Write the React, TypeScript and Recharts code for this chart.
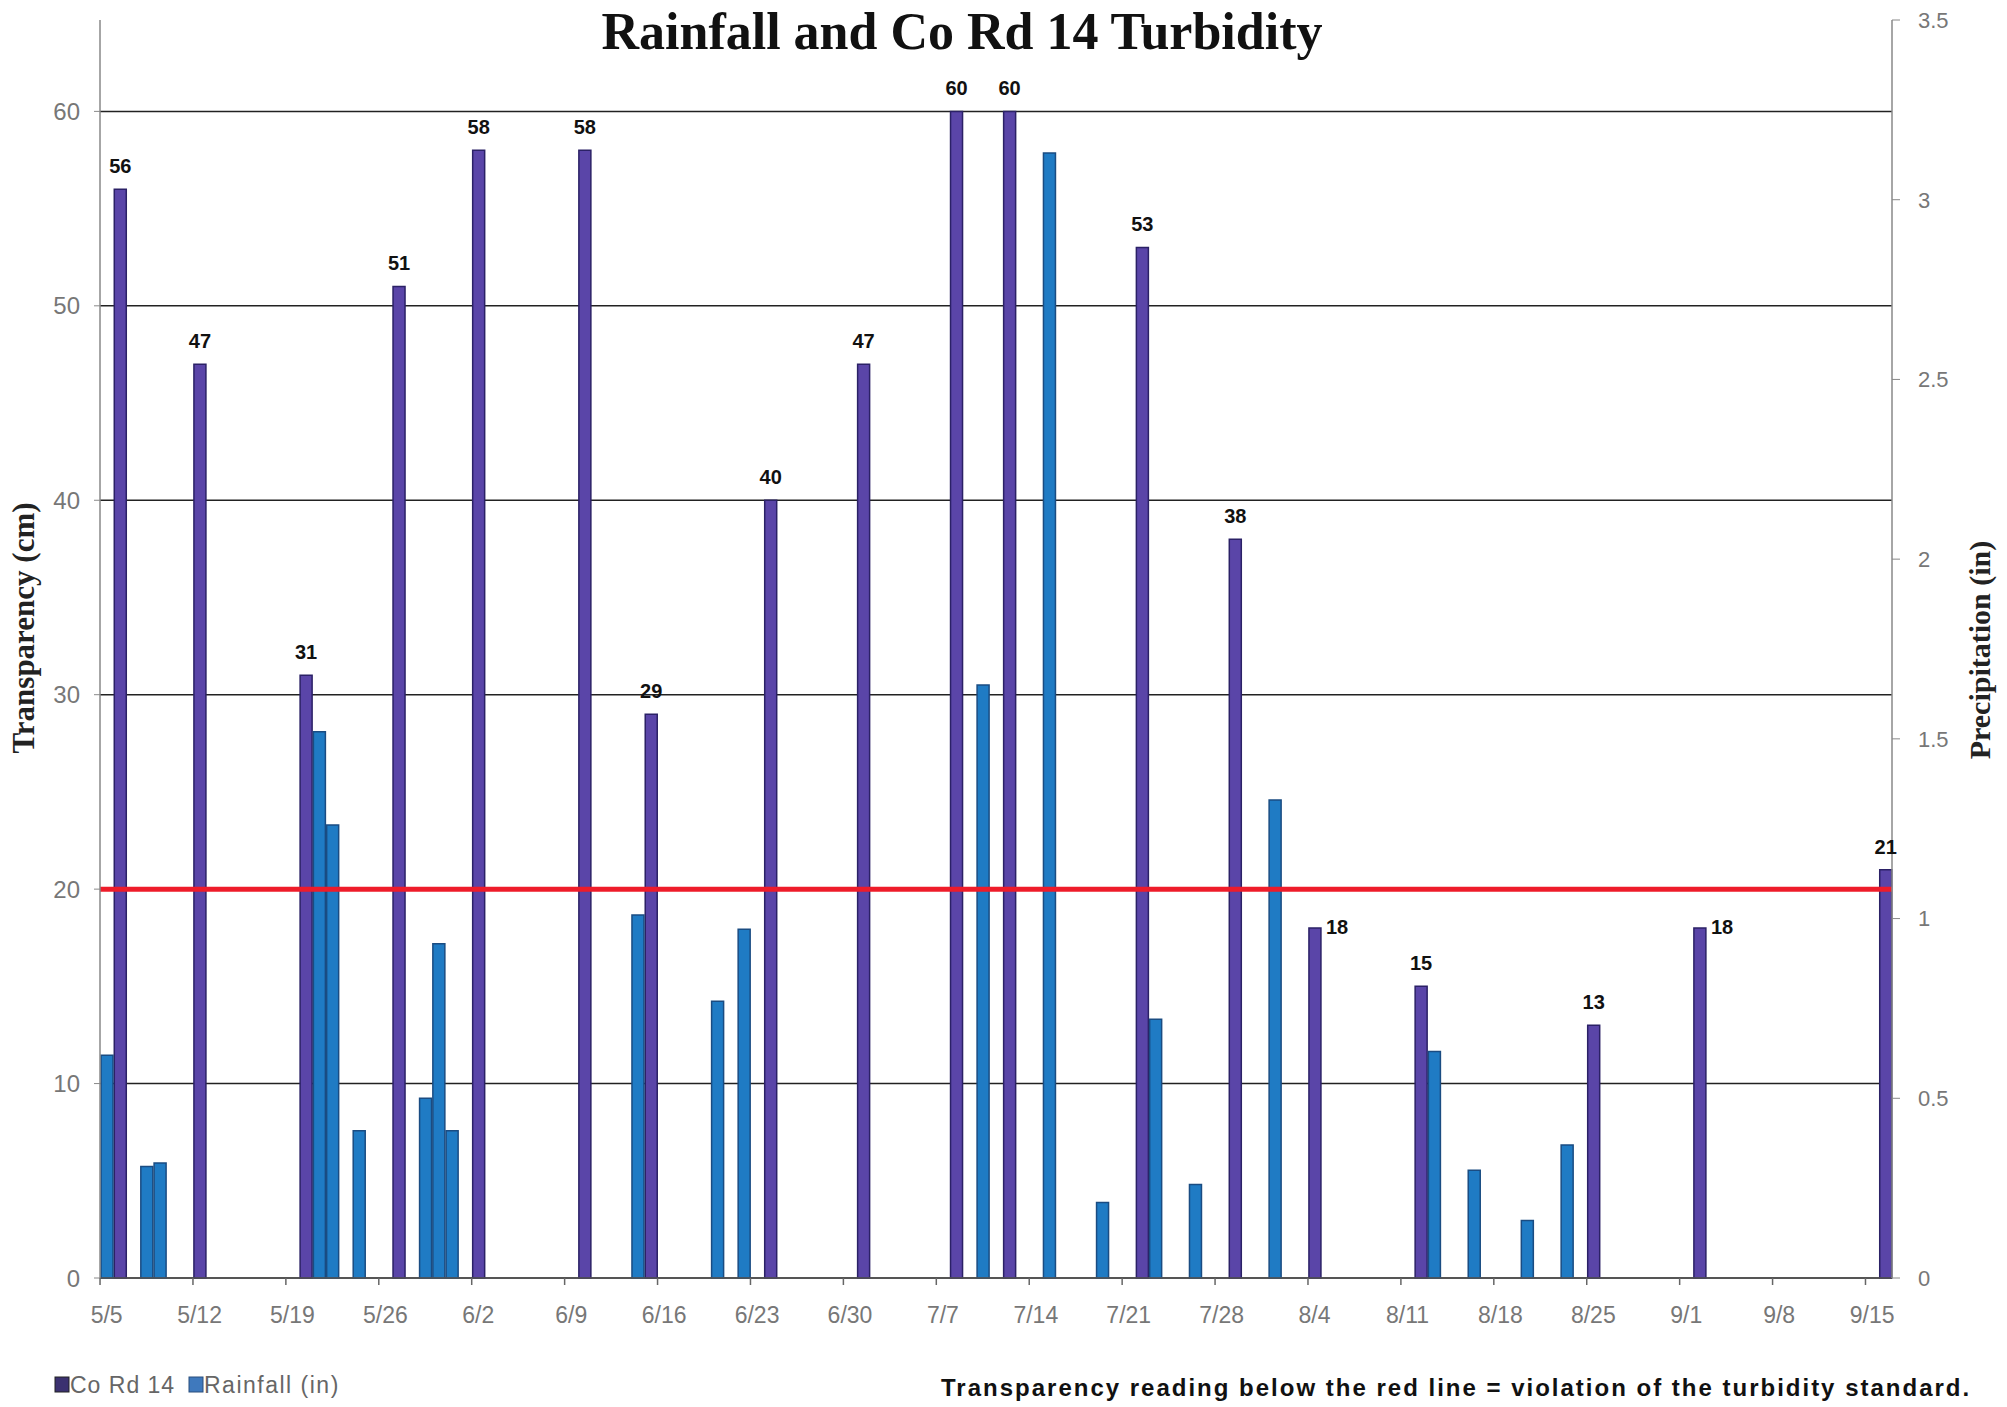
import React from 'react';
import { BarChart, Bar, XAxis, YAxis, CartesianGrid, ReferenceLine, LabelList } from 'recharts';

// every day of the season, one category each
const days: string[] = [
  '5/5', '5/6', '5/7', '5/8', '5/9', '5/10', '5/11', '5/12', '5/13', '5/14', '5/15', '5/16', '5/17', '5/18',
  '5/19', '5/20', '5/21', '5/22', '5/23', '5/24', '5/25', '5/26', '5/27', '5/28', '5/29', '5/30', '5/31',
  '6/1', '6/2', '6/3', '6/4', '6/5', '6/6', '6/7', '6/8', '6/9', '6/10', '6/11', '6/12', '6/13', '6/14', '6/15',
  '6/16', '6/17', '6/18', '6/19', '6/20', '6/21', '6/22', '6/23', '6/24', '6/25', '6/26', '6/27', '6/28', '6/29', '6/30',
  '7/1', '7/2', '7/3', '7/4', '7/5', '7/6', '7/7', '7/8', '7/9', '7/10', '7/11', '7/12', '7/13', '7/14', '7/15',
  '7/16', '7/17', '7/18', '7/19', '7/20', '7/21', '7/22', '7/23', '7/24', '7/25', '7/26', '7/27', '7/28', '7/29',
  '7/30', '7/31',
  '8/1', '8/2', '8/3', '8/4', '8/5', '8/6', '8/7', '8/8', '8/9', '8/10', '8/11', '8/12', '8/13', '8/14', '8/15',
  '8/16', '8/17', '8/18', '8/19', '8/20', '8/21', '8/22', '8/23', '8/24', '8/25', '8/26', '8/27', '8/28', '8/29',
  '8/30', '8/31',
  '9/1', '9/2', '9/3', '9/4', '9/5', '9/6', '9/7', '9/8', '9/9', '9/10', '9/11', '9/12', '9/13', '9/14', '9/15', '9/16',
];

// Co Rd 14 transparency readings (cm)
const readingDays = ['5/6', '5/12', '5/20', '5/27', '6/2', '6/10', '6/15', '6/24', '7/1', '7/8', '7/12', '7/22', '7/29', '8/4', '8/12', '8/25', '9/2', '9/16'];
const readingValues = [56, 47, 31, 51, 58, 58, 29, 40, 47, 60, 60, 53, 38, 18, 15, 13, 18, 21];

// rainfall (in)
const rainDays = ['5/5', '5/8', '5/9', '5/21', '5/22', '5/24', '5/29', '5/30', '5/31', '6/14', '6/20', '6/22', '7/10', '7/15', '7/19', '7/23', '7/26', '8/1', '8/13', '8/16', '8/20', '8/23'];
const rainValues = [0.62, 0.31, 0.32, 1.52, 1.26, 0.41, 0.5, 0.93, 0.41, 1.01, 0.77, 0.97, 1.65, 3.13, 0.21, 0.72, 0.26, 1.33, 0.63, 0.3, 0.16, 0.37];

const leftTicks = [0, 10, 20, 30, 40, 50, 60];
const rightTicks = [0, 0.5, 1, 1.5, 2, 2.5, 3, 3.5];
const standard = 20;

// readings whose label sits beside the bar instead of above it
const sideLabelDays = ['8/4', '9/2'];

const data = days.map((d) => {
  const ri = readingDays.indexOf(d);
  const pi = rainDays.indexOf(d);
  return {
    date: d,
    coRd14: ri >= 0 ? readingValues[ri] : null,
    rain: pi >= 0 ? rainValues[pi] : null,
  };
});

const narrow = '"Liberation Sans Narrow", "Liberation Sans", Arial, sans-serif';
const sans = '"Liberation Sans", Arial, sans-serif';
const serif = '"Liberation Serif", "DejaVu Serif", serif';
const HALF_BAND = 6.6;

const XTick = (props: any) => {
  const { x, y, payload } = props;
  return (
    <g>
      <line x1={x - HALF_BAND} x2={x - HALF_BAND} y1={y} y2={y + 7} stroke="#666" strokeWidth={1.5} />
      <text x={x} y={y + 45} textAnchor="middle" fill="#777" fontSize={23} fontFamily={narrow}>
        {payload.value}
      </text>
    </g>
  );
};

// label content gets the day as its value; the reading is looked up from it
const renderLabel = (props: any) => {
  const { x, y, width, value } = props;
  const ri = readingDays.indexOf(value);
  if (ri < 0) return null;
  const text = readingValues[ri];
  if (sideLabelDays.includes(value)) {
    return (
      <text x={x + width + 5} y={y + 6} fill="#111" fontSize={20} fontWeight="bold" fontFamily={narrow}>
        {text}
      </text>
    );
  }
  return (
    <text x={x + width / 2} y={y - 16} textAnchor="middle" fill="#111" fontSize={20} fontWeight="bold" fontFamily={narrow}>
      {text}
    </text>
  );
};

export default function App() {
  return (
    <div style={{ position: 'relative', width: 2007, height: 1407, background: '#fff' }}>
      <style>{'body{margin:0}'}</style>
      <BarChart
        width={2007}
        height={1407}
        data={data}
        margin={{ top: 20, right: 60, bottom: 79, left: 40 }}
        barSize={12}
        barGap={-12}
      >
        <CartesianGrid vertical={false} horizontalValues={leftTicks} stroke="#222" strokeWidth={1.5} />
        <XAxis
          dataKey="date"
          interval={6}
          height={50}
          tickSize={0}
          tickMargin={0}
          tickLine={false}
          tick={<XTick />}
          axisLine={{ stroke: '#555', strokeWidth: 1.5 }}
        />
        <YAxis
          domain={[0, 64.7]}
          ticks={leftTicks}
          width={60}
          tickSize={6}
          tickMargin={14}
          tick={{ fill: '#777', fontSize: 24, fontFamily: narrow }}
          axisLine={{ stroke: '#888', strokeWidth: 1.5 }}
          tickLine={{ stroke: '#888' }}
        />
        <YAxis
          yAxisId="right"
          orientation="right"
          domain={[0, 3.5]}
          ticks={rightTicks}
          width={55}
          tickSize={8}
          tickMargin={18}
          tick={{ fill: '#777', fontSize: 22, fontFamily: narrow, textAnchor: 'start' }}
          axisLine={{ stroke: '#888', strokeWidth: 1.5 }}
          tickLine={{ stroke: '#888' }}
        />
        <Bar dataKey="coRd14" name="Co Rd 14" fill="#5a45a8" stroke="#2b2166" strokeWidth={1.5} isAnimationActive={false}>
          <LabelList dataKey="date" content={renderLabel} />
        </Bar>
        <Bar dataKey="rain" name="Rainfall (in)" yAxisId="right" fill="#1f7bc4" stroke="#1a4c82" strokeWidth={1.5} isAnimationActive={false} />
        <ReferenceLine y={standard} stroke="#ee1c2a" strokeWidth={5} />
      </BarChart>
      <svg width={2007} height={1407} style={{ position: 'absolute', left: 0, top: 0, pointerEvents: 'none' }}>
        <text x={962} y={49} textAnchor="middle" fontSize={52} fontWeight="bold" fontFamily={serif} fill="#111">
          Rainfall and Co Rd 14 Turbidity
        </text>
        <text
          transform="translate(34 628) rotate(-90)"
          textAnchor="middle"
          fontSize={31}
          fontWeight="bold"
          fontFamily={serif}
          fill="#222"
        >
          Transparency (cm)
        </text>
        <text
          transform="translate(1990 650) rotate(-90)"
          textAnchor="middle"
          fontSize={30}
          fontWeight="bold"
          fontFamily={serif}
          fill="#222"
        >
          Precipitation (in)
        </text>
        <rect x={55} y={1377} width={14} height={15} fill="#3b3170" stroke="#222" />
        <text x={70} y={1393} fontSize={23} letterSpacing={1} fontFamily={sans} fill="#666">Co Rd 14</text>
        <rect x={189} y={1377} width={14} height={15} fill="#3f79bd" stroke="#2a4f7c" />
        <text x={204} y={1393} fontSize={23} letterSpacing={1.5} fontFamily={sans} fill="#666">Rainfall (in)</text>
        <text x={941} y={1396} fontSize={24} letterSpacing={2} fontWeight="bold" fontFamily={sans} fill="#111">
          Transparency reading below the red line = violation of the turbidity standard.
        </text>
      </svg>
    </div>
  );
}
